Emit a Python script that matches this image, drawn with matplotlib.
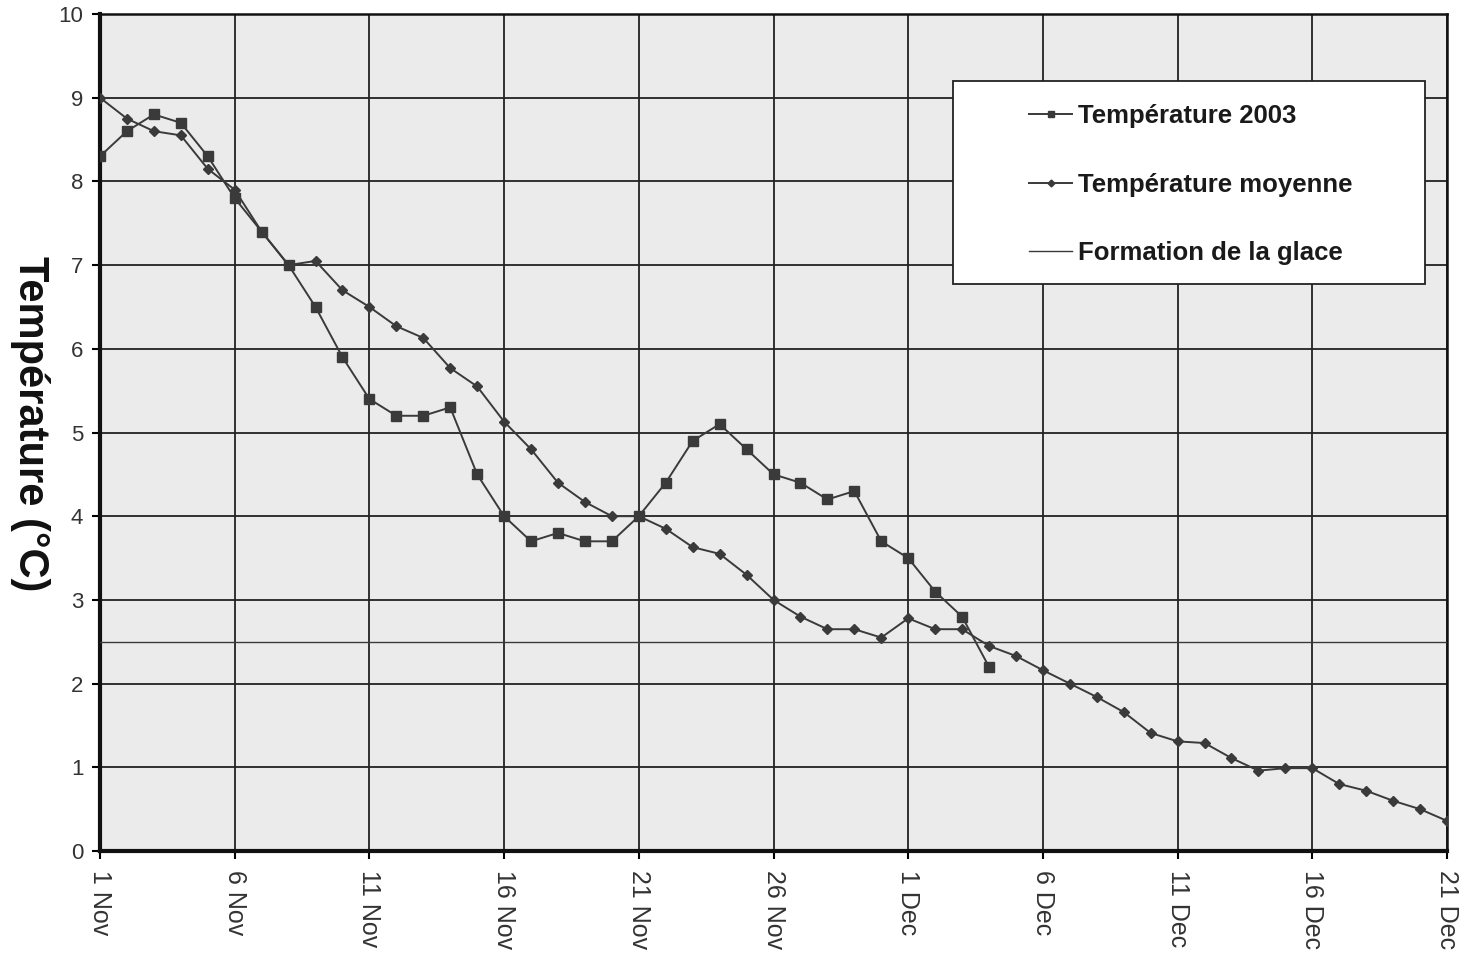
import numpy as np
import matplotlib
matplotlib.use('Agg')
import matplotlib.pyplot as plt
from matplotlib.patches import Rectangle

plt.rcParams['font.family'] = ['Liberation Sans', 'DejaVu Sans']

# Données (jour 0 = 1 Nov)
temp_2003 = [8.3, 8.6, 8.8, 8.7, 8.3, 7.8, 7.4, 7.0, 6.5, 5.9,
             5.4, 5.2, 5.2, 5.3, 4.5, 4.0, 3.7, 3.8, 3.7, 3.7,
             4.0, 4.4, 4.9, 5.1, 4.8, 4.5, 4.4, 4.2, 4.3, 3.7,
             3.5, 3.1, 2.8, 2.2]
temp_moyenne = [9.0, 8.75, 8.6, 8.55, 8.15, 7.9, 7.4, 7.0, 7.05, 6.7,
                6.5, 6.27, 6.13, 5.77, 5.55, 5.13, 4.8, 4.4, 4.17, 4.0,
                4.0, 3.85, 3.63, 3.55, 3.3, 3.0, 2.8, 2.65, 2.65, 2.55,
                2.78, 2.65, 2.65, 2.45, 2.33, 2.16, 2.0, 1.84, 1.66, 1.41,
                1.31, 1.29, 1.11, 0.96, 0.99, 0.99, 0.8, 0.72, 0.6, 0.5,
                0.36]
seuil_glace = 2.5
jours_ticks = [0, 5, 10, 15, 20, 25, 30, 35, 40, 45, 50]
etiquettes = ['1 Nov', '6 Nov', '11 Nov', '16 Nov', '21 Nov', '26 Nov',
              '1 Dec', '6 Dec', '11 Dec', '16 Dec', '21 Dec']

couleur = '#3a3a3a'

fig = plt.figure(figsize=(14.64, 9.59), dpi=100)
ax = fig.add_axes([0.0683, 0.1126, 0.9201, 0.8728])
ax.set_facecolor('#ebebeb')

x_2003 = np.arange(len(temp_2003))
x_moy = np.arange(len(temp_moyenne))

ax.plot(x_2003, temp_2003, color=couleur, lw=1.4, marker='s', ms=6.5,
        label='Température 2003', zorder=4)
ax.plot(x_moy, temp_moyenne, color=couleur, lw=1.4, marker='D', ms=5,
        label='Température moyenne', zorder=4)
ax.plot([x_moy[0], x_moy[-1]], [seuil_glace, seuil_glace], color=couleur,
        lw=1.0, label='Formation de la glace', zorder=3)

ax.set_xlim(0, 50)
ax.set_ylim(0, 10)
ax.set_xticks(jours_ticks)
ax.set_xticklabels(etiquettes, rotation=270, fontsize=18, color='#333333')
ax.set_yticks(range(0, 11))
ax.tick_params(axis='y', labelsize=16, labelcolor='#333333', length=6, width=1.5, direction='out', pad=6)
ax.tick_params(axis='x', length=6, width=1.5, direction='out', pad=8)

ax.grid(which='major', axis='both', color='#222222', linewidth=1.3)
ax.set_axisbelow(True)

for cote in ['left', 'bottom']:
    ax.spines[cote].set_linewidth(3)
for cote in ['top', 'right']:
    ax.spines[cote].set_linewidth(1.8)
for cote in ax.spines:
    ax.spines[cote].set_color('#111111')

ax.set_ylabel('Température (°C)', fontsize=30, fontweight='bold', rotation=270,
              color='#111111', va='center', ha='center')
ax.yaxis.set_label_coords(-0.052, 0.51)

# cadre de la légende
cadre = Rectangle((0.633, 0.677), 0.351, 0.243, transform=ax.transAxes,
                  facecolor='white', edgecolor='#222222', linewidth=1.3, zorder=5)
ax.add_patch(cadre)

leg = ax.legend(loc='upper left', bbox_to_anchor=(0.690, 0.892), fontsize=18.5,
                frameon=False, handlelength=1.65, handletextpad=0.25,
                labelspacing=1.72, borderpad=0, borderaxespad=0, markerscale=0.7)
leg.set_zorder(6)
for t in leg.get_texts():
    t.set_fontweight('bold')
    t.set_color('#1a1a1a')

fig.savefig('out.png', dpi=100, facecolor='white')
